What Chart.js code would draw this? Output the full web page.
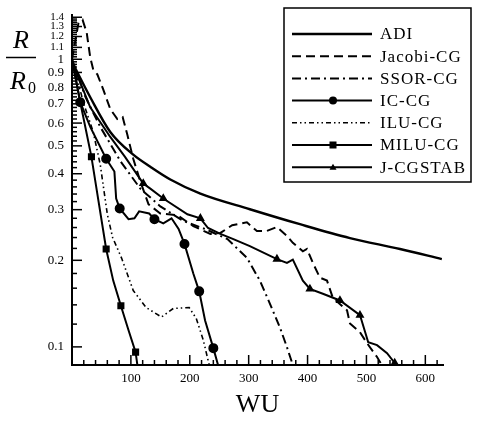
<!DOCTYPE html>
<html>
<head>
<meta charset="utf-8">
<script src="https://cdn.jsdelivr.net/npm/chart.js@4.4.0/dist/chart.umd.min.js"></script>
<style>
  html, body { margin: 0; padding: 0; background: #fff; }
  #wrap { width: 477px; height: 421px; }
</style>
</head>
<body>
<div id="wrap"><canvas id="c" width="477" height="421"></canvas></div>
<script>
// Residual history R/R0 vs work units
const adiX = [0, 31, 65, 104, 133, 167, 218, 302, 387, 472, 557, 628];
const adiY = [0.98, 0.738, 0.559, 0.466, 0.423, 0.382, 0.341, 0.301, 0.267, 0.239, 0.219, 0.202];

const jacX = [0, 11, 18, 25, 31, 36, 43, 53, 65, 77, 86, 94, 104, 116, 130, 150, 179, 206, 235, 252,
              272, 297, 314, 331, 348, 365, 375, 392, 399, 409, 421, 433, 443, 467, 472, 489, 501, 518, 526];
const jacY = [1.0, 1.338, 1.371, 1.236, 1.014, 0.921, 0.886, 0.786, 0.671, 0.620, 0.630, 0.546, 0.451, 0.376, 0.313, 0.291, 0.287, 0.263, 0.247, 0.249,
              0.265, 0.271, 0.253, 0.253, 0.261, 0.243, 0.230, 0.215, 0.219, 0.196, 0.174, 0.170, 0.148, 0.134, 0.1207, 0.1124, 0.103, 0.0922, 0.0865];

const ssorX = [0, 23, 48, 83, 116, 150, 189, 226, 264, 297, 319, 336, 353, 365, 375];
const ssorY = [1.0, 0.738, 0.582, 0.440, 0.355, 0.308, 0.274, 0.257, 0.237, 0.204, 0.170, 0.1415, 0.1169, 0.0998, 0.0865];

const icX = [0, 14, 31, 58, 72, 75, 81, 96, 106, 114, 131, 140, 155, 169, 181, 191, 206, 216, 226, 240, 248];
const icY = [1.0, 0.709, 0.582, 0.451, 0.407, 0.328, 0.303, 0.278, 0.280, 0.296, 0.291, 0.278, 0.269, 0.280, 0.257, 0.228, 0.180, 0.156, 0.1236, 0.099, 0.0865];

const iluX = [0, 20, 36, 48, 60, 69, 84, 104, 126, 152, 172, 199, 211, 223, 233];
const iluY = [1.0, 0.70, 0.559, 0.43, 0.289, 0.24, 0.204, 0.157, 0.137, 0.127, 0.136, 0.137, 0.1256, 0.1055, 0.0865];

const miluX = [0, 14, 33, 45, 58, 70, 83, 96, 108, 111];
const miluY = [1.0, 0.709, 0.458, 0.321, 0.219, 0.170, 0.139, 0.1142, 0.0959, 0.0865];

const jcgX = [0, 31, 65, 90, 121, 133, 155, 196, 218, 231, 252, 274, 302, 348, 365, 375, 392, 404, 426, 455, 489, 503, 518, 535, 548];
const jcgY = [0.98, 0.681, 0.537, 0.458, 0.370, 0.355, 0.328, 0.289, 0.280, 0.259, 0.247, 0.237, 0.224, 0.202, 0.196, 0.201, 0.170, 0.159, 0.153, 0.145, 0.129, 0.1038, 0.1014, 0.0951, 0.0879];

// which points carry a symbol
const icMarks = [1, 3, 6, 11, 15, 17, 19];
const miluMarks = [1, 2, 4, 6, 8];
const jcgMarks = [4, 6, 8, 13, 17, 19, 20, 24];

const xTickLabels = [100, 200, 300, 400, 500, 600];
const yTickLabels = [0.1, 0.2, 0.3, 0.4, 0.5, 0.6, 0.7, 0.8, 0.9, 1, 1.1, 1.2, 1.3, 1.4];

const SERIF = "'Liberation Serif', 'DejaVu Serif', serif";
const pts = (xs, ys) => xs.map((x, i) => ({ x, y: ys[i] }));
const marked = (idx, r) => c => idx.includes(c.dataIndex) ? r : 0;

// inward ticks, R/R0 label and boxed legend
const figure = {
    id: 'figure',
    afterDraw(chart) {
        const { ctx, chartArea: a } = chart;
        const xs = chart.scales.x, ys = chart.scales.y;
        ctx.save();
        ctx.strokeStyle = '#000';
        ctx.fillStyle = '#000';
        ctx.lineWidth = 1.5;

        xs.ticks.forEach(t => {
            const px = xs.getPixelForValue(t.value);
            const len = t.value % 100 === 0 ? 10 : 5;
            ctx.beginPath();
            ctx.moveTo(px, a.bottom);
            ctx.lineTo(px, a.bottom - len);
            ctx.stroke();
        });
        ys.ticks.forEach(t => {
            const py = ys.getPixelForValue(t.value);
            const major = Math.abs(t.value * 10 - Math.round(t.value * 10)) < 1e-6;
            ctx.beginPath();
            ctx.moveTo(a.left, py);
            ctx.lineTo(a.left + (major ? 10 : 5), py);
            ctx.stroke();
        });

        // R / R0
        ctx.textAlign = 'center';
        ctx.textBaseline = 'alphabetic';
        ctx.font = 'italic 26px ' + SERIF;
        ctx.fillText('R', 21, 48);
        ctx.fillText('R', 18, 89);
        ctx.font = '16px ' + SERIF;
        ctx.fillText('0', 32, 93);
        ctx.beginPath();
        ctx.moveTo(6, 57.5);
        ctx.lineTo(36, 57.5);
        ctx.stroke();

        // legend box
        ctx.lineWidth = 1.5;
        ctx.strokeRect(284, 8, 187, 174);
        ctx.font = '17px ' + SERIF;
        ctx.textAlign = 'left';
        ctx.textBaseline = 'middle';
        ctx.letterSpacing = '1px';
        chart.data.datasets.forEach((ds, i) => {
            const y = 34 + i * 22.2;
            ctx.save();
            ctx.lineWidth = ds.borderWidth;
            ctx.setLineDash(ds.borderDash || []);
            ctx.beginPath();
            ctx.moveTo(292, y);
            ctx.lineTo(372, y);
            ctx.stroke();
            ctx.restore();
            const mx = 333;
            if (ds.mark === 'circle') {
                ctx.beginPath(); ctx.arc(mx, y, 4, 0, Math.PI * 2); ctx.fill();
            } else if (ds.mark === 'rect') {
                ctx.fillRect(mx - 3.5, y - 3.5, 7, 7);
            } else if (ds.mark === 'triangle') {
                ctx.beginPath(); ctx.moveTo(mx, y - 3.5); ctx.lineTo(mx + 3.5, y + 2.5); ctx.lineTo(mx - 3.5, y + 2.5); ctx.closePath(); ctx.fill();
            }
            ctx.fillText(ds.label, 380, y + 1);
        });
        ctx.restore();
    }
};

const line = (label, xs, ys, extra) => Object.assign({
    label,
    data: pts(xs, ys),
    borderColor: '#000',
    backgroundColor: '#000',
    pointBackgroundColor: '#000',
    pointBorderColor: '#000',
    borderWidth: 2,
    pointRadius: 0,
    tension: 0,
    fill: false
}, extra);

new Chart(document.getElementById('c'), {
    type: 'line',
    data: {
        datasets: [
            line('ADI', adiX, adiY, { borderWidth: 2.4, cubicInterpolationMode: 'monotone' }),
            line('Jacobi-CG', jacX, jacY, { borderDash: [9, 5] }),
            line('SSOR-CG', ssorX, ssorY, { borderDash: [9, 4, 2, 4] }),
            line('IC-CG', icX, icY, { mark: 'circle', pointStyle: 'circle', pointRadius: marked(icMarks, 4) }),
            line('ILU-CG', iluX, iluY, { borderWidth: 1.6, borderDash: [5, 3, 1.5, 3, 1.5, 3] }),
            line('MILU-CG', miluX, miluY, { mark: 'rect', pointStyle: 'rect', pointRadius: marked(miluMarks, 3.6) }),
            line('J-CGSTAB', jcgX, jcgY, { mark: 'triangle', pointStyle: 'triangle', pointRadius: marked(jcgMarks, 3.2) })
        ]
    },
    options: {
        responsive: false,
        devicePixelRatio: 1,
        animation: false,
        layout: { padding: { left: 0, top: 12, right: 34, bottom: 0 } },
        plugins: { legend: { display: false }, tooltip: { enabled: false } },
        scales: {
            x: {
                type: 'linear',
                min: 0,
                max: 630,
                afterBuildTicks: s => {
                    const t = [];
                    for (let v = 0; v <= 620; v += 20) t.push({ value: v });
                    s.ticks = t;
                },
                afterFit: s => { s.height = 56; },
                grid: { display: false, drawTicks: false },
                border: { display: true, color: '#000', width: 2 },
                ticks: {
                    autoSkip: false,
                    maxRotation: 0,
                    padding: 6,
                    color: '#000',
                    font: { family: SERIF, size: 13 },
                    callback: v => xTickLabels.includes(v) ? String(v) : ''
                },
                title: {
                    display: true,
                    text: 'WU',
                    color: '#000',
                    font: { family: SERIF, size: 26 },
                    padding: { top: 0, bottom: 0 }
                }
            },
            y: {
                type: 'logarithmic',
                min: 0.0865,
                max: 1.43,
                afterBuildTicks: s => {
                    const t = [];
                    for (let i = 5; i <= 70; i++) t.push({ value: i / 50 });
                    s.ticks = t;
                },
                afterFit: s => { s.width = 72; },
                grid: { display: false, drawTicks: false },
                border: { display: true, color: '#000', width: 2 },
                ticks: {
                    autoSkip: false,
                    padding: 8,
                    color: '#000',
                    font: c => ({ family: SERIF, size: c.tick && c.tick.value > 1.05 ? 11 : 13 }),
                    callback: v => {
                        const hit = yTickLabels.find(l => Math.abs(l - v) < 1e-6);
                        return hit === undefined ? '' : String(hit);
                    }
                }
            }
        }
    },
    plugins: [figure]
});
</script>
</body>
</html>
